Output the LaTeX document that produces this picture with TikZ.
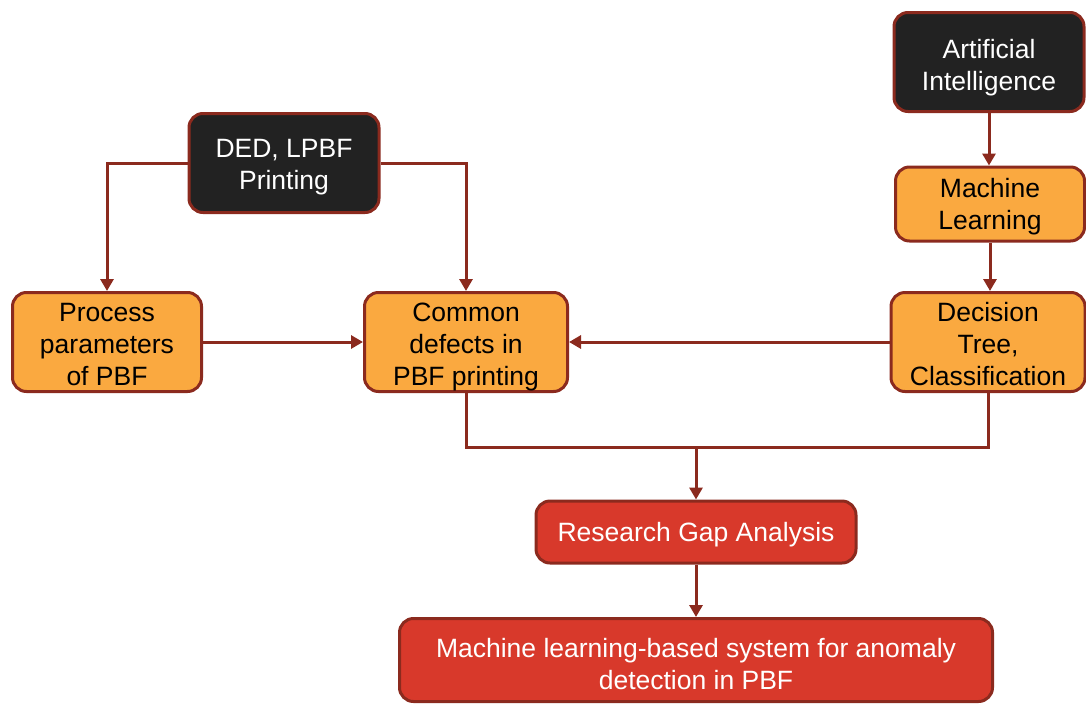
\documentclass[tikz,border=0pt]{standalone}
\usepackage{fontspec}
\setmainfont{Liberation Sans}
\usetikzlibrary{arrows.meta}
\definecolor{edgec}{HTML}{8B2A1E}
\definecolor{orangef}{HTML}{FAA940}
\definecolor{darkf}{HTML}{222222}
\definecolor{redf}{HTML}{D8392B}
\begin{document}
\begin{tikzpicture}[x=1pt,y=-1pt,
 box/.style={draw=edgec, line width=3pt, rounded corners=14pt, inner sep=0pt},
 darkbox/.style={box, fill=darkf},
 orbox/.style={box, fill=orangef},
 redbox/.style={box, fill=redf},
 txt/.style={align=center, font=\fontsize{26.5}{32}\selectfont, inner sep=0pt},
 wtxt/.style={txt, text=white},
 btxt/.style={txt, text=black},
 conn/.style={draw=edgec, line width=3pt},
 arr/.style={conn, -{Triangle[length=12pt,width=13pt]}}]
\useasboundingbox (0,0) rectangle (1086,704);
\node[darkbox, minimum width=190pt, minimum height=99pt] (ded) at (284,163) {};
\node[wtxt] (dedt) at ([yshift=-4pt]ded.center) {DED, LPBF\\Printing};
\node[darkbox, minimum width=190pt, minimum height=99pt] (ai) at (989,62) {};
\node[wtxt] (ait) at ([yshift=-6pt]ai.center) {Artificial\\Intelligence};
\node[orbox, minimum width=189pt, minimum height=74pt] (ml) at (990,204) {};
\node[btxt] (mlt) at ([yshift=-3pt]ml.center) {Machine\\Learning};
\node[orbox, minimum width=194pt, minimum height=99pt] (dec) at (988,342) {};
\node[btxt] (dect) at ([yshift=-2pt]dec.center) {Decision\\Tree,\\Classification};
\node[orbox, minimum width=203pt, minimum height=99pt] (com) at (466,342) {};
\node[btxt] (comt) at ([yshift=-5pt]com.center) {Common\\defects in\\PBF printing};
\node[orbox, minimum width=189pt, minimum height=99pt] (proc) at (107,342) {};
\node[btxt] (proct) at ([yshift=-3pt]proc.center) {Process\\parameters\\of PBF};
\node[redbox, minimum width=320pt, minimum height=62pt] (gap) at (696,532) {};
\node[wtxt] (gapt) at ([yshift=-3pt]gap.center) {Research Gap Analysis};
\node[redbox, minimum width=593pt, minimum height=83pt] (fin) at (696,660) {};
\node[wtxt] (fint) at ([yshift=-4pt]fin.center) {Machine learning-based system for anomaly\\detection in PBF};
\coordinate (j) at (696,447);
\draw[arr] (ded.west) -| (proc.north);
\draw[arr] (ded.east) -| (com.north);
\draw[arr] (proc.east) -- (com.west);
\draw[arr] (dec.west) -- (com.east);
\draw[arr] (ai.south) -- (ai.south |- ml.north);
\draw[arr] (ml.south) -- (ml.south |- dec.north);
\draw[conn] (com.south) -- (com.south |- j) -| (dec.south);
\draw[arr] (j) -- (gap.north);
\draw[arr] (gap.south) -- (fin.north);
\end{tikzpicture}
\end{document}
